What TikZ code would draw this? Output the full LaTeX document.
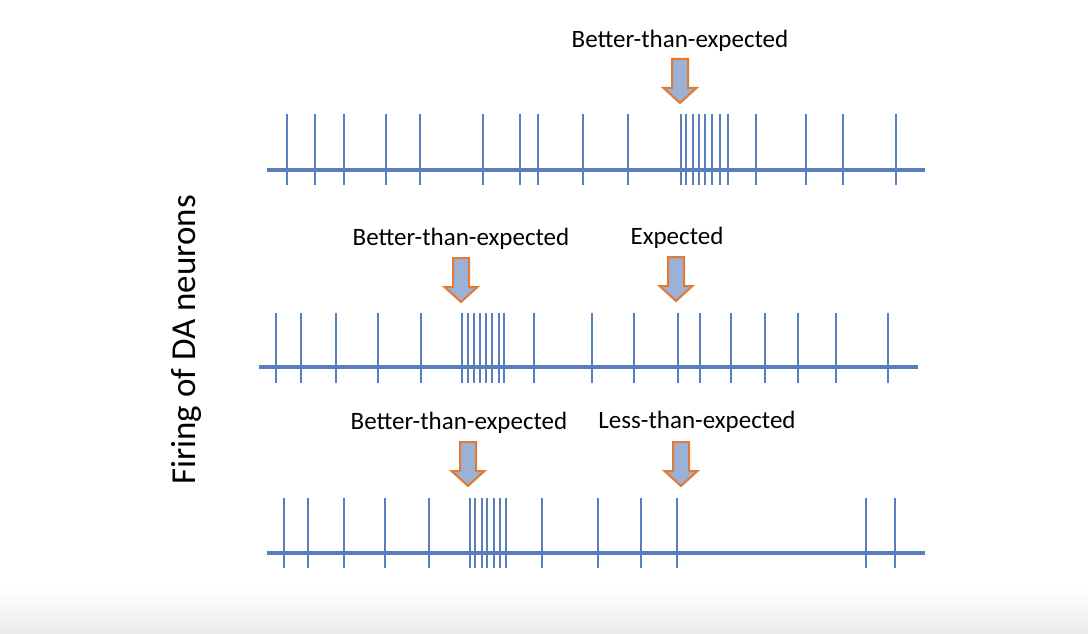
\documentclass[tikz,border=0pt]{standalone}
\usepackage{fontspec}
\setmainfont{Carlito}
\usetikzlibrary{positioning}
\definecolor{spike}{RGB}{88,126,189}
\definecolor{cuefill}{RGB}{155,178,214}
\definecolor{cueedge}{RGB}{226,121,52}

\begin{document}
\begin{tikzpicture}[
    x=1pt, y=-1pt,
    axisline/.style={draw=spike, line width=3.5pt},
    spikeline/.style={draw=spike, line width=2.4pt},
    cue/.style={fill=cuefill, draw=cueedge, line width=2pt, line join=miter},
    lbl/.style={font=\fontsize{25}{30}\selectfont, inner sep=0pt},
    cuearrow/.pic={
        \draw[cue] (-8,0) -- (8,0) -- (8,29) -- (16.5,29) -- (0,44)
            -- (-16.5,29) -- (-8,29) -- cycle;
    }
]
\useasboundingbox (0,0) rectangle (1088,634);
\shade[top color=white, bottom color=black!8] (0,588) rectangle (1088,634);

% Axis label
\node[font=\fontsize{35}{40}\selectfont, rotate=90, inner sep=0pt] (ylab) at (186,340) {Firing of DA neurons};

% Row 1
\coordinate (r1s) at (267,170);
\coordinate (r1e) at (925,170);
\draw[axisline] (r1s) -- (r1e);
\foreach \x in {287,315,344,386,420,483,520,538,583,628,681,686,693,699,705,712,720,728,756,806,843,896}
    \draw[spikeline] (\x,114) -- (\x,185);
\node[lbl] (b1) at (680,41) {Better-than-expected};
\pic at (680,59) {cuearrow};

% Row 2
\coordinate (r2s) at (259,367);
\coordinate (r2e) at (918,367);
\draw[axisline] (r2s) -- (r2e);
\foreach \x in {276,301,336,378,421,462,468,474,480,486,492,499,504,534,592,634,678,700,731,765,798,836,888}
    \draw[spikeline] (\x,313) -- (\x,383);
\node[lbl] (b2) at (461,239) {Better-than-expected};
\node[lbl] (e2) at (677,238) {Expected};
\pic at (461,258) {cuearrow};
\pic at (676,257) {cuearrow};

% Row 3
\coordinate (r3s) at (267,553);
\coordinate (r3e) at (925,553);
\draw[axisline] (r3s) -- (r3e);
\foreach \x in {284,308,344,385,429,470,475,482,487,494,500,506,542,598,641,677,866,895}
    \draw[spikeline] (\x,498) -- (\x,568);
\node[lbl] (b3) at (459,423) {Better-than-expected};
\node[lbl] (l3) at (697,422) {Less-than-expected};
\pic at (468,442) {cuearrow};
\pic at (681,442) {cuearrow};

\end{tikzpicture}
\end{document}
